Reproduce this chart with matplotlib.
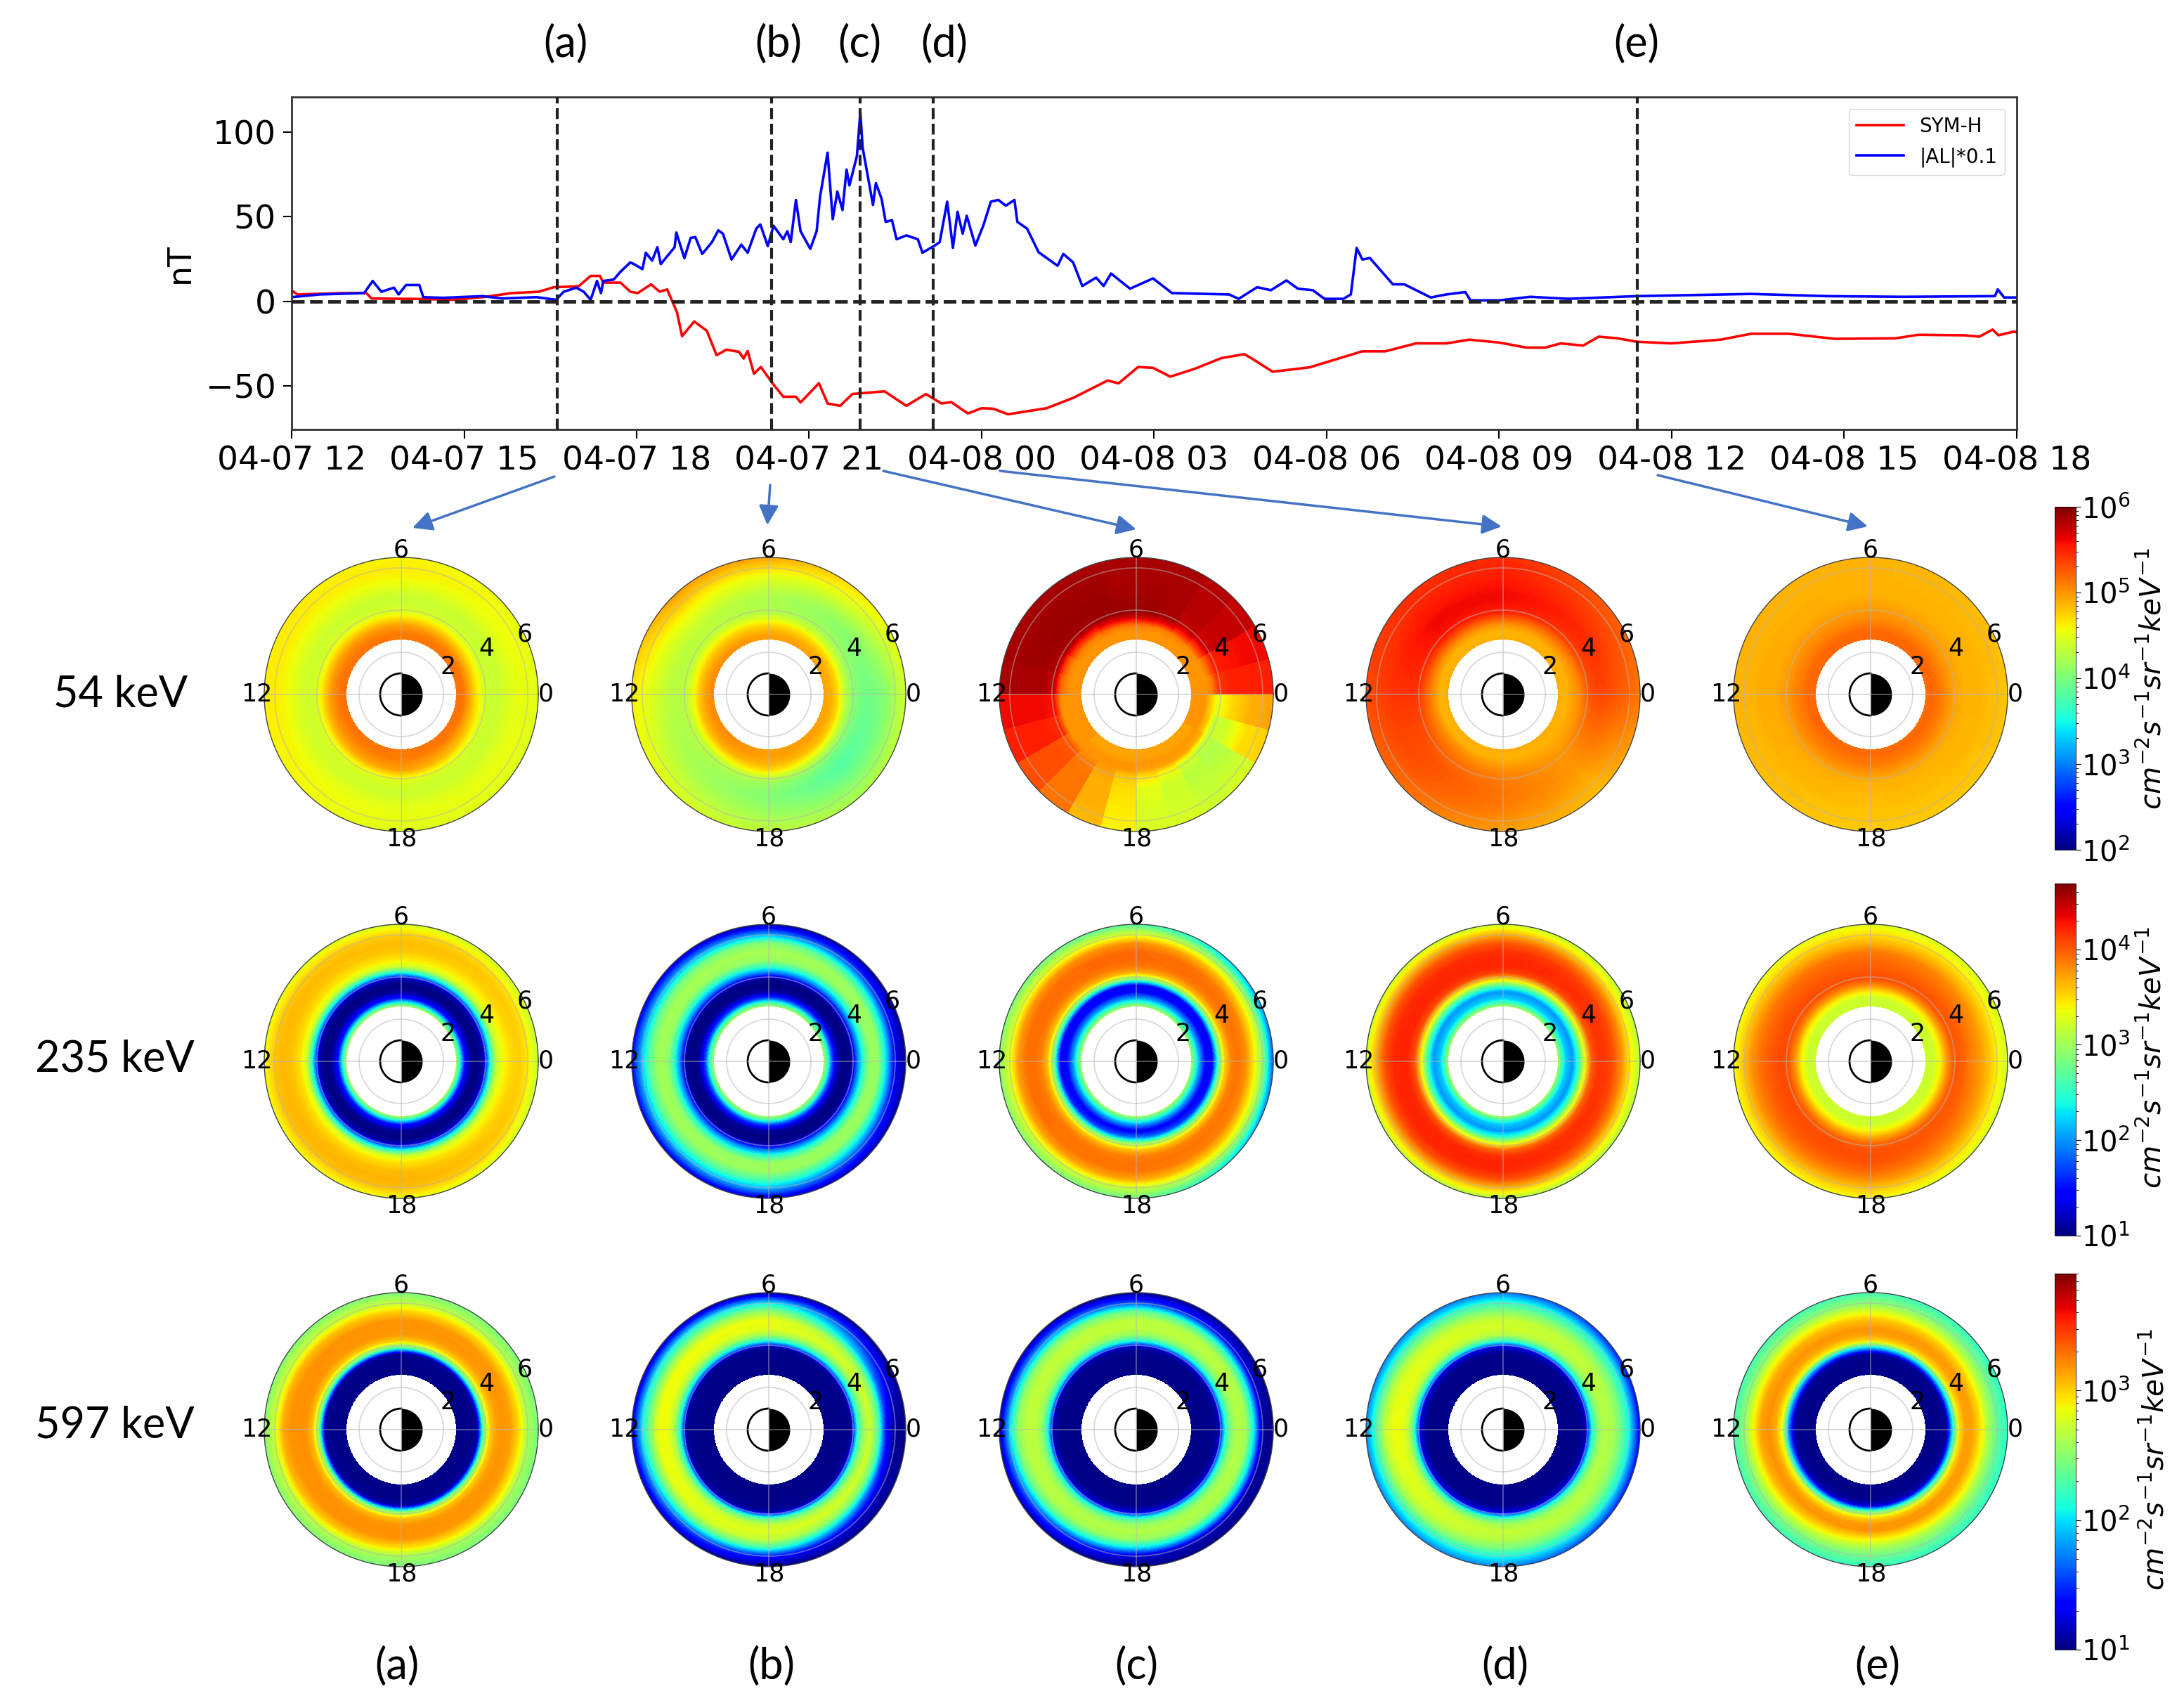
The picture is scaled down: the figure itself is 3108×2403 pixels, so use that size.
"""
Storm overview: SYM-H / AL time series and MLT-L flux maps at three energies
"""

import numpy as np
from matplotlib import pyplot as plt
from matplotlib.cm import ScalarMappable
from matplotlib.colors import LogNorm

W, H = 3108, 2403

# hours since 04-07 12:00
sym_hours = [0, .1, .92, 1.3, 1.39, 2.29, 2.8, 3.32, 3.83, 4.3, 4.56, 4.99, 5.2, 5.36, 5.42, 5.72, 5.89, 6.02, 6.25,
             6.4, 6.53, 6.7, 6.79, 7, 7.22, 7.39, 7.56, 7.78, 7.86, 7.93, 8.04, 8.16, 8.38, 8.55, 8.77, 8.85, 9.17,
             9.32, 9.54, 9.75, 10.31, 10.69, 11.03, 11.3, 11.47, 11.76, 12, 12.2, 12.46, 13.13, 13.59, 14.19, 14.38,
             14.72, 14.98, 15.28, 15.71, 16.17, 16.57, 16.7, 17.06, 17.7, 18.62, 19.02, 19.55, 20.08, 20.48, 21,
             21.47, 21.8, 22.07, 22.46, 22.73, 23.06, 23.39, 23.99, 24.85, 25.38, 26.04, 26.83, 27.89, 28.29, 29.08,
             29.35, 29.58, 29.68, 29.95, 30]
sym_h = [6.4, 4, 4.8, 4.8, 1.6, 1.3, .8, 2.4, 4.8, 5.6, 8.3, 8.8, 15, 15, 11, 11, 5.6, 4.8, 10,
         5.6, 7, -6.4, -20.7, -12, -17.5, -32, -28.7, -30, -34, -29.5, -43, -39, -49.4, -56.6, -56.6, -60, -48.6,
         -60.6, -62, -55, -53.4, -62, -55, -60.6, -59.8, -66.5, -63.4, -63.7, -67, -63.4, -57.3, -47, -48.7,
         -39, -39.5, -44.7, -40, -33.7, -31.4, -34, -41.8, -39.2, -29.7, -29.7, -25, -25, -22.8, -24.5,
         -27.5, -27.5, -25, -26.3, -21, -22, -24, -25, -22.8, -19.3, -19.3, -22.3, -22, -19.9, -20.2,
         -21, -16.8, -20.2, -18, -18.5]

al_hours = [0, .49, 1.26, 1.41, 1.56, 1.78, 1.86, 1.99, 2.22, 2.29, 2.63, 3.32, 3.66, 4.26, 4.6, 4.73, 4.95, 5.08, 5.2,
            5.31, 5.38, 5.42, 5.6, 5.72, 5.89, 5.98, 6.1, 6.16, 6.27, 6.36, 6.42, 6.66, 6.69, 6.83, 6.94, 7.02, 7.14,
            7.31, 7.42, 7.5, 7.65, 7.82, 7.93, 8.08, 8.15, 8.28, 8.38, 8.55, 8.62, 8.68, 8.77, 8.85, 9.02, 9.13, 9.19,
            9.32, 9.41, 9.49, 9.58, 9.65, 9.7, 9.83, 9.89, 9.93, 10.11, 10.16, 10.26, 10.33, 10.44, 10.52, 10.69,
            10.89, 10.97, 11.17, 11.27, 11.4, 11.5, 11.58, 11.67, 11.74, 11.89, 12.03, 12.16, 12.29, 12.42, 12.57,
            12.62, 12.79, 12.99, 13.32, 13.42, 13.59, 13.75, 13.99, 14.12, 14.25, 14.58, 14.98, 15.31, 16.3, 16.47,
            16.79, 17.03, 17.3, 17.5, 17.76, 17.96, 18.29, 18.42, 18.52, 18.62, 18.75, 19.15, 19.35, 19.81, 20.08,
            20.41, 20.5, 21, 21.54, 22.2, 23.39, 25.38, 26.7, 28.03, 29.62, 29.67, 29.78, 30]
al_values = [2.4, 4, 4.8, 12, 5.6, 8, 4, 9.6, 9.6, 2.4, 2, 3, 1.6, 2.4, .8, 5.6, 8, 5.6, .8,
             12, 4.8, 12, 12.8, 17.5, 23, 21.5, 19, 28.7, 24, 32, 22, 32, 40.7, 25.5, 37.5, 38, 28,
             35, 42, 40, 24.7, 33.5, 28.7, 43, 45.5, 32.7, 44.7, 36.7, 41.5, 35, 60, 41.5, 31, 41.5, 62,
             88, 48.6, 65, 54, 78, 68.6, 86, 112, 91, 57, 70, 60.6, 47, 48, 36.7, 39,
             36.7, 28.7, 32.7, 35, 59, 31.6, 53, 40, 50.6, 33, 45, 59, 60, 56.6, 60,
             47, 43, 29, 21, 28, 23, 9, 14, 9, 16.4, 7.4, 13.5, 4.8, 4, 1.4,
             8.3, 6.5, 12.3, 7.4, 6.5, 1.4, 1.4, 4, 31.6, 24.7, 25.6, 10, 10, 2.2, 4,
             5.4, .5, .5, 2.6, 1.4, 3, 4.3, 3, 2.6, 3, 7, 2.2, 2.2]

event_hours = [4.62, 8.35, 9.88, 11.16, 23.4]
event_labels = ["(a)", "(b)", "(c)", "(d)", "(e)"]

time_ticks = [0, 3, 6, 9, 12, 15, 18, 21, 24, 27, 30]
time_labels = ["04-07 12", "04-07 15", "04-07 18", "04-07 21", "04-08 00", "04-08 03",
               "04-08 06", "04-08 09", "04-08 12", "04-08 15", "04-08 18"]

energy_labels = ["54 keV", "235 keV", "597 keV"]

# radial distance of each column in the flux tables
radii = [2.6, 2.8, 3.0, 3.3, 3.6, 3.9, 4.2, 4.5, 4.8, 5.2, 5.6, 6.0, 6.5]
radii_c = [2.6, 3.0, 3.3, 3.6, 3.9, 4.5, 5.5, 6.5]

# log10 flux, one row per MLT sector starting from MLT 0
flux_54_a = [[5.16, 5.16, 5.12, 4.88, 4.64, 4.44, 4.36, 4.36, 4.40, 4.48, 4.52, 4.52, 4.48],
             [5.12, 5.12, 5.08, 4.96, 4.72, 4.48, 4.40, 4.36, 4.40, 4.52, 4.60, 4.64, 4.60],
             [5.16, 5.16, 5.12, 5.00, 4.80, 4.52, 4.40, 4.40, 4.44, 4.52, 4.60, 4.64, 4.64],
             [5.12, 5.12, 5.12, 5.04, 4.96, 4.64, 4.44, 4.40, 4.40, 4.48, 4.52, 4.52, 4.48]]
flux_54_b = [[4.96, 4.92, 4.88, 4.68, 4.32, 4.12, 4.00, 3.96, 3.96, 4.00, 4.08, 4.24, 4.40],
             [4.96, 4.92, 4.88, 4.68, 4.40, 4.20, 4.12, 4.08, 4.12, 4.24, 4.40, 4.52, 4.64],
             [4.96, 4.96, 4.88, 4.72, 4.48, 4.28, 4.24, 4.24, 4.28, 4.40, 4.52, 4.72, 4.96],
             [5.04, 5.00, 4.92, 4.76, 4.52, 4.32, 4.32, 4.32, 4.40, 4.52, 4.64, 4.80, 4.96],
             [5.08, 5.04, 4.96, 4.80, 4.52, 4.32, 4.28, 4.28, 4.32, 4.40, 4.48, 4.56, 4.64],
             [5.04, 5.04, 5.00, 4.88, 4.60, 4.32, 4.24, 4.20, 4.20, 4.24, 4.32, 4.40, 4.48],
             [4.96, 4.96, 4.96, 4.88, 4.72, 4.40, 4.16, 4.08, 4.04, 4.08, 4.16, 4.24, 4.32],
             [4.96, 4.96, 4.92, 4.80, 4.48, 4.16, 3.96, 3.84, 3.80, 3.88, 4.00, 4.12, 4.24]]
# this one shows hard one-hour sectors, drawn without blending in MLT
flux_54_c = [[5.00, 5.00, 5.00, 5.10, 5.40, 5.50, 5.50, 5.50],
             [5.00, 5.00, 5.00, 5.20, 5.50, 5.55, 5.60, 5.60],
             [5.00, 5.00, 5.05, 5.40, 5.70, 5.75, 5.75, 5.75],
             [5.00, 5.00, 5.10, 5.50, 5.75, 5.80, 5.80, 5.80],
             [5.00, 5.00, 5.10, 5.60, 5.85, 5.85, 5.85, 5.85],
             [5.00, 5.00, 5.15, 5.65, 5.90, 5.88, 5.85, 5.85],
             [5.00, 5.00, 5.15, 5.65, 5.90, 5.88, 5.85, 5.85],
             [5.00, 5.00, 5.15, 5.60, 5.90, 5.90, 5.88, 5.85],
             [5.00, 5.00, 5.10, 5.50, 5.85, 5.90, 5.88, 5.85],
             [5.00, 5.00, 5.10, 5.45, 5.85, 5.90, 5.88, 5.85],
             [5.00, 5.00, 5.05, 5.30, 5.80, 5.88, 5.88, 5.85],
             [5.00, 5.00, 5.05, 5.20, 5.75, 5.85, 5.85, 5.85],
             [5.00, 5.00, 5.00, 5.05, 5.55, 5.60, 5.60, 5.60],
             [5.00, 5.00, 5.00, 5.00, 5.45, 5.50, 5.50, 5.50],
             [5.00, 5.00, 5.00, 5.00, 5.25, 5.30, 5.30, 5.30],
             [4.95, 4.95, 5.00, 5.00, 5.10, 5.15, 5.15, 5.15],
             [4.95, 4.95, 5.00, 5.00, 4.95, 4.90, 4.90, 4.85],
             [4.95, 4.95, 5.00, 5.00, 4.80, 4.70, 4.65, 4.60],
             [4.95, 4.95, 5.00, 4.95, 4.70, 4.50, 4.45, 4.45],
             [4.95, 4.95, 5.00, 4.95, 4.60, 4.40, 4.40, 4.45],
             [4.95, 4.95, 5.00, 4.95, 4.45, 4.30, 4.35, 4.40],
             [4.95, 4.95, 5.00, 4.90, 4.35, 4.25, 4.35, 4.45],
             [5.00, 5.00, 5.00, 4.80, 4.35, 4.40, 4.70, 4.75],
             [5.00, 5.00, 5.00, 4.75, 4.50, 4.70, 4.90, 4.95]]
flux_54_d = [[4.92, 4.88, 4.88, 4.96, 5.04, 5.20, 5.30, 5.34, 5.34, 5.30, 5.24, 5.20, 5.12],
             [4.92, 4.88, 4.88, 5.00, 5.16, 5.36, 5.44, 5.48, 5.48, 5.42, 5.38, 5.32, 5.26],
             [4.92, 4.88, 4.88, 5.00, 5.24, 5.50, 5.56, 5.60, 5.60, 5.56, 5.52, 5.50, 5.46],
             [4.92, 4.88, 4.88, 5.04, 5.28, 5.52, 5.58, 5.60, 5.60, 5.54, 5.50, 5.46, 5.44],
             [4.92, 4.88, 4.88, 5.04, 5.20, 5.36, 5.42, 5.42, 5.42, 5.42, 5.38, 5.36, 5.32],
             [4.92, 4.88, 4.88, 5.04, 5.12, 5.20, 5.24, 5.28, 5.28, 5.28, 5.26, 5.20, 5.16],
             [4.92, 4.88, 4.88, 4.96, 5.04, 5.10, 5.12, 5.14, 5.14, 5.12, 5.08, 5.02, 4.96],
             [4.92, 4.88, 4.88, 4.92, 4.96, 5.00, 5.00, 5.00, 5.00, 4.96, 4.92, 4.88, 4.84]]
flux_54_e = [[5.16, 5.20, 5.20, 5.12, 5.04, 4.96, 4.92, 4.88, 4.88, 4.88, 4.84, 4.84, 4.80],
             [5.20, 5.20, 5.20, 5.12, 5.04, 5.00, 4.96, 4.92, 4.88, 4.88, 4.88, 4.88, 4.88],
             [5.20, 5.20, 5.20, 5.12, 5.08, 5.00, 4.96, 4.92, 4.92, 4.92, 4.88, 4.88, 4.88],
             [5.16, 5.20, 5.16, 5.12, 5.04, 4.96, 4.88, 4.88, 4.84, 4.84, 4.80, 4.80, 4.76]]

flux_235_a = [[3.07, 2.40, 1.52, 1.07, 1.00, 1.15, 2.40, 3.15, 3.36, 3.50, 3.55, 3.45, 3.14],
              [3.07, 2.40, 1.52, 1.07, 1.00, 1.15, 2.40, 3.21, 3.44, 3.58, 3.62, 3.55, 3.25],
              [3.07, 2.40, 1.52, 1.07, 1.00, 1.15, 2.40, 3.25, 3.48, 3.60, 3.64, 3.60, 3.36],
              [3.07, 2.40, 1.52, 1.07, 1.00, 1.15, 2.40, 3.25, 3.48, 3.62, 3.66, 3.62, 3.36]]
flux_235_b = [[3.03, 2.55, 1.74, 1.10, 1.00, 1.07, 1.90, 2.55, 2.97, 2.95, 2.20, 1.35, 1.05],
              [3.03, 2.55, 1.74, 1.10, 1.00, 1.07, 1.90, 2.55, 2.97, 3.05, 2.90, 2.10, 1.10],
              [3.03, 2.55, 1.74, 1.10, 1.00, 1.07, 1.90, 2.55, 2.97, 3.03, 2.75, 2.20, 1.45],
              [3.03, 2.55, 1.74, 1.10, 1.00, 1.07, 1.90, 2.55, 2.97, 3.00, 2.65, 2.15, 1.30]]
flux_235_c = [[3.03, 2.55, 2.03, 1.44, 1.40, 2.70, 3.55, 3.85, 3.90, 3.80, 3.40, 2.92, 1.74],
              [3.03, 2.55, 2.03, 1.44, 1.37, 2.90, 3.66, 3.88, 3.95, 3.95, 3.80, 3.29, 2.66],
              [3.03, 2.55, 2.03, 1.44, 1.40, 2.80, 3.60, 3.85, 3.92, 3.92, 3.75, 3.30, 2.92],
              [3.03, 2.55, 2.03, 1.37, 1.90, 3.00, 3.60, 3.85, 3.90, 3.90, 3.70, 3.20, 2.80]]
flux_235_d = [[3.03, 2.55, 2.18, 2.00, 2.60, 3.40, 4.00, 4.14, 4.14, 4.05, 3.80, 3.45, 3.10],
              [3.03, 2.55, 2.18, 2.00, 2.70, 3.51, 4.10, 4.21, 4.21, 4.17, 4.03, 3.69, 3.20],
              [3.03, 2.55, 2.18, 2.00, 2.60, 3.45, 4.05, 4.20, 4.22, 4.20, 4.05, 3.70, 3.20],
              [3.03, 2.55, 2.18, 2.00, 2.50, 3.30, 3.95, 4.17, 4.22, 4.20, 4.05, 3.65, 3.10]]
flux_235_e = [[3.20, 3.20, 3.20, 3.40, 3.75, 4.00, 4.00, 3.95, 3.85, 3.75, 3.60, 3.42, 3.20],
              [3.20, 3.20, 3.20, 3.44, 3.80, 4.03, 4.03, 3.98, 3.95, 3.88, 3.66, 3.50, 3.29],
              [3.20, 3.20, 3.20, 3.44, 3.80, 4.03, 4.08, 4.05, 4.00, 3.92, 3.80, 3.60, 3.36],
              [3.20, 3.20, 3.20, 3.40, 3.70, 3.95, 4.03, 4.05, 4.03, 3.95, 3.80, 3.60, 3.36]]

flux_597_a = [[1.03, 1.03, 1.03, 1.03, 1.06, 2.40, 3.00, 3.15, 3.18, 3.15, 2.95, 2.60, 2.45],
              [1.03, 1.03, 1.03, 1.03, 1.06, 2.40, 3.00, 3.17, 3.18, 3.18, 3.00, 2.70, 2.45],
              [1.03, 1.03, 1.03, 1.03, 1.06, 2.50, 3.05, 3.18, 3.20, 3.20, 3.12, 2.75, 2.50],
              [1.03, 1.03, 1.03, 1.03, 1.10, 2.50, 3.05, 3.18, 3.20, 3.18, 2.95, 2.60, 2.45]]
flux_597_b = [[1.03, 1.03, 1.03, 1.03, 1.03, 1.06, 2.15, 2.55, 2.75, 2.30, 1.30, 1.03, 1.03],
              [1.03, 1.03, 1.03, 1.03, 1.03, 1.06, 2.10, 2.60, 2.82, 2.85, 2.55, 2.05, 1.03],
              [1.03, 1.03, 1.03, 1.03, 1.03, 1.06, 2.15, 2.65, 2.85, 2.87, 2.50, 2.05, 1.25],
              [1.03, 1.03, 1.03, 1.03, 1.03, 1.10, 2.30, 2.70, 2.80, 2.70, 2.25, 1.40, 1.03]]
flux_597_c = [[1.03, 1.03, 1.03, 1.03, 1.03, 1.10, 2.10, 2.50, 2.65, 2.60, 2.00, 1.06, 1.03],
              [1.03, 1.03, 1.03, 1.03, 1.03, 1.10, 2.10, 2.55, 2.68, 2.68, 2.40, 1.60, 1.03],
              [1.03, 1.03, 1.03, 1.03, 1.03, 1.10, 2.15, 2.55, 2.68, 2.68, 2.55, 2.00, 1.15],
              [1.03, 1.03, 1.03, 1.03, 1.03, 1.20, 2.20, 2.55, 2.65, 2.55, 2.00, 1.20, 1.03]]
flux_597_d = [[1.03, 1.03, 1.03, 1.03, 1.03, 1.10, 2.10, 2.50, 2.65, 2.60, 2.40, 2.05, 1.30],
              [1.03, 1.03, 1.03, 1.03, 1.03, 1.20, 2.20, 2.65, 2.75, 2.72, 2.50, 2.20, 1.70],
              [1.03, 1.03, 1.03, 1.03, 1.03, 1.20, 2.20, 2.70, 2.85, 2.85, 2.70, 2.30, 1.75],
              [1.03, 1.03, 1.03, 1.03, 1.03, 1.20, 2.25, 2.60, 2.70, 2.65, 2.45, 2.10, 1.75]]
flux_597_e = [[1.03, 1.03, 1.03, 1.03, 1.06, 2.10, 2.95, 3.15, 3.15, 2.95, 2.60, 2.35, 2.15],
              [1.03, 1.03, 1.03, 1.03, 1.06, 2.00, 2.95, 3.15, 3.18, 3.05, 2.80, 2.50, 2.25],
              [1.03, 1.03, 1.03, 1.03, 1.06, 1.80, 2.85, 3.10, 3.20, 3.15, 2.85, 2.50, 2.25],
              [1.03, 1.03, 1.03, 1.03, 1.20, 2.50, 3.00, 3.18, 3.18, 2.90, 2.60, 2.40, 2.20]]

flux_rows = [[flux_54_a, flux_54_b, flux_54_c, flux_54_d, flux_54_e],
             [flux_235_a, flux_235_b, flux_235_c, flux_235_d, flux_235_e],
             [flux_597_a, flux_597_b, flux_597_c, flux_597_d, flux_597_e]]

row_vmin = [1e2, 1e1, 1e1]
row_vmax = [1e6, 4.9e4, 8e3]
row_ticks = [[1e2, 1e3, 1e4, 1e5, 1e6], [1e1, 1e2, 1e3, 1e4], [1e1, 1e2, 1e3]]

# layout, in reference pixels
col_x = [571, 1094, 1617, 2139, 2662]
row_y = [988, 1510, 2034]
row_cbar = [(721, 1209), (1257, 1758), (1812, 2347)]


def px_axes(fig, left, top, right, bottom, **kw):
    return fig.add_axes([left / W, 1 - bottom / H, (right - left) / W, (bottom - top) / H], **kw)


def draw_map(ax, table, r_read, norm, stepped=False):
    # the table is read on a coarse grid, a fine mesh just keeps the rings round
    table = np.array(table)
    r_edges = np.linspace(r_read[0], r_read[-1], 131)
    th_edges = np.linspace(0, 2 * np.pi, 361)
    r_mid = (r_edges[:-1] + r_edges[1:]) / 2
    th_mid = (th_edges[:-1] + th_edges[1:]) / 2
    n = table.shape[0]

    by_r = np.array([np.interp(r_mid, r_read, row) for row in table])
    if stepped:
        sector = np.floor(th_mid / (2 * np.pi) * n).astype(int)
        grid = by_r[sector]
    else:
        th_read = np.arange(n) * 2 * np.pi / n
        grid = np.array([np.interp(th_mid, th_read, by_r[:, i], period=2 * np.pi)
                         for i in range(len(r_mid))]).T
    ax.pcolormesh(th_edges, r_edges, 10 ** grid.T, cmap="jet", norm=norm, antialiased=False, zorder=1)


def draw_earth(ax):
    th = np.linspace(-np.pi / 2, np.pi / 2, 90)
    ax.fill_between(th, 0, 1, color="k", lw=0, zorder=2)
    th = np.linspace(np.pi / 2, 3 * np.pi / 2, 90)
    ax.plot(th, np.ones_like(th), color="k", lw=2, zorder=2)


fig = plt.figure(figsize=(W / 100, H / 100), dpi=100)

# time series
ax = px_axes(fig, 415, 138, 2870, 611)
ax.plot(sym_hours, sym_h, color="red", lw=2.6, label="SYM-H")
ax.plot(al_hours, al_values, color="blue", lw=2.6, label="|AL|*0.1")
ax.axhline(0, color="#222222", ls="--", lw=3.5, zorder=3)
for h in event_hours:
    ax.axvline(h, color="#222222", ls="--", lw=3, zorder=3)
ax.set_xlim(0, 30)
ax.set_ylim(-76, 121)
ax.set_xticks(time_ticks)
ax.set_xticklabels(time_labels)
ax.set_yticks([-50, 0, 50, 100])
ax.tick_params(labelsize=34, length=9, width=1.5, pad=7)
ax.set_ylabel("nT", fontsize=33, labelpad=10)
for sp in ax.spines.values():
    sp.set_color("#333333")
    sp.set_linewidth(2)
ax.legend(loc="upper right", fontsize=20, borderaxespad=0.6, handlelength=2.4, labelspacing=0.55)

# flux maps
for r, row in enumerate(flux_rows):
    norm = LogNorm(row_vmin[r], row_vmax[r])
    for c, table in enumerate(row):
        pax = px_axes(fig, col_x[c] - 198, row_y[r] - 195, col_x[c] + 198, row_y[r] + 195, projection="polar")
        is_sectored = table is flux_54_c
        draw_map(pax, table, radii_c if is_sectored else radii, norm, stepped=is_sectored)
        draw_earth(pax)
        pax.set_ylim(0, 6.5)
        pax.set_yticks([2, 4, 6])
        pax.set_yticklabels([])
        pax.set_xticks(np.radians([0, 90, 180, 270]))
        pax.set_xticklabels(["0", "6", "12", "18"])
        pax.tick_params(axis="x", labelsize=25, pad=-3)
        pax.grid(True, color="#b4b4b4", lw=1.3, alpha=0.5, zorder=3)
        pax.set_axisbelow(False)
        pax.spines["polar"].set_linewidth(1.0)
        pax.spines["polar"].set_color("#444444")
        for txt, lab_r, lab_th in [("2", 2.57, 30.5), ("4", 4.6, 28), ("6", 6.5, 26)]:
            pax.text(np.radians(lab_th), lab_r, txt, fontsize=25, ha="center", va="center",
                     clip_on=False, zorder=5)

    cax = px_axes(fig, 2924, row_cbar[r][0], 2954, row_cbar[r][1])
    cb = fig.colorbar(ScalarMappable(norm=norm, cmap="jet"), cax=cax)
    cb.set_ticks(row_ticks[r])
    cax.tick_params(which="major", labelsize=29, length=5, pad=1)
    cax.tick_params(which="minor", length=3)
    cb.outline.set_linewidth(0.6)

# overlay for the loose labels and arrows
over = px_axes(fig, 0, 0, W, H)
over.set_xlim(0, W)
over.set_ylim(H, 0)
over.axis("off")
over.patch.set_alpha(0)

for x, lab in zip([805, 1108, 1223, 1344, 2329], event_labels):
    over.text(x, 63, lab, fontsize=44, family="Lato", ha="center", va="center")
for x, lab in zip([565, 1098, 1617, 2142, 2672], event_labels):
    over.text(x, 2371, lab, fontsize=44, family="Lato", ha="center", va="center")
for x, y, lab in zip([172, 163, 163], [988, 1507, 2028], energy_labels):
    over.text(x, y, lab, fontsize=44, family="Lato", ha="center", va="center")

cbar_label = r"$cm^{-2}s^{-1}sr^{-1}keV^{-1}$"
for x, y in zip([3064, 3064, 3068], [965, 1504, 2076]):
    over.text(x, y, cbar_label, fontsize=29, rotation=90, ha="center", va="center")

arrow_starts = [(789, 678), (1096, 690), (1257, 670), (1423, 670), (2359, 676)]
arrow_ends = [(587, 751), (1092, 747), (1617, 753), (2137, 749), (2658, 749)]
for start, end in zip(arrow_starts, arrow_ends):
    over.annotate("", xy=end, xytext=start,
                  arrowprops=dict(arrowstyle="-|>", color="#4472C4", lw=2.5, mutation_scale=42,
                                  shrinkA=0, shrinkB=0))

fig.savefig("out.png", dpi=100)
